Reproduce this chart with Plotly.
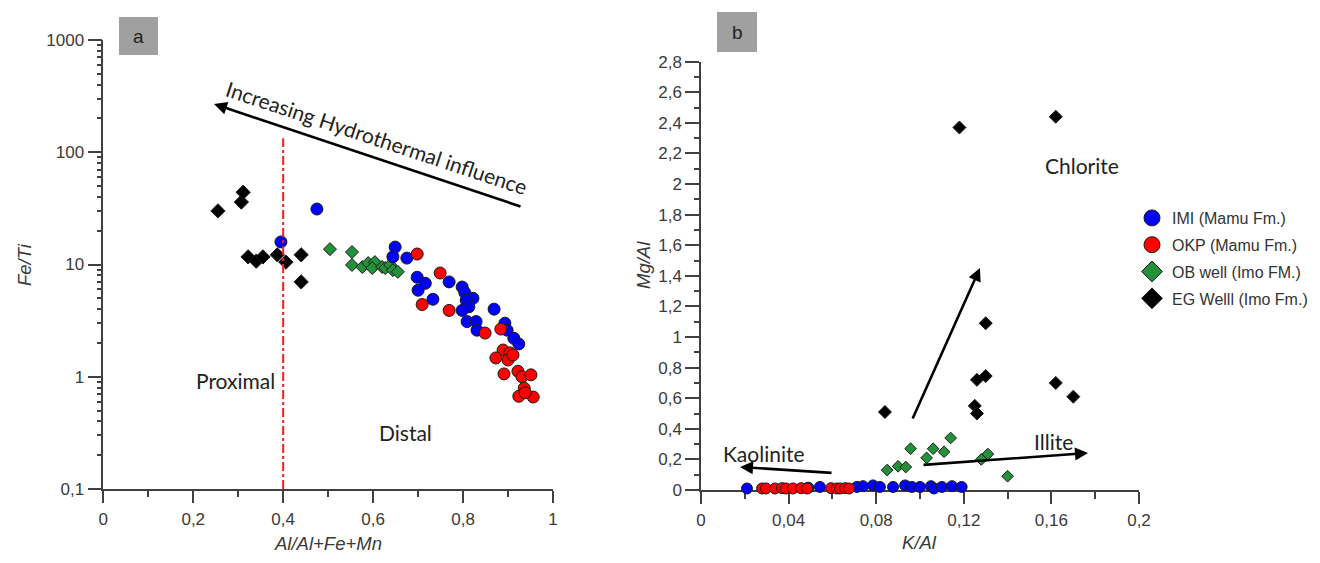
import plotly.graph_objects as go

# The page body adds an 8 px margin; the figure is sized so that it fills the 1320x563 window.
OFF = 8
W, H = 1320 - OFF, 563 - OFF

# ---------------- Panel a : Fe/Ti vs Al/(Al+Fe+Mn) ----------------
imi_a_x = [0.475, 0.395, 0.649, 0.644, 0.675, 0.698, 0.716, 0.700, 0.733, 0.769, 0.798, 0.804,
           0.822, 0.807, 0.813, 0.798, 0.869, 0.809, 0.829, 0.831, 0.893, 0.898, 0.913, 0.924]
imi_a_y = [31.2, 15.9, 14.3, 11.7, 11.4, 7.7, 6.8, 5.9, 4.9, 7.0, 6.3, 5.6,
           5.0, 4.8, 4.2, 3.9, 4.0, 3.1, 3.1, 2.6, 3.0, 2.6, 2.2, 1.96]

okp_a_x = [0.698, 0.749, 0.709, 0.769, 0.849, 0.884, 0.889, 0.904, 0.873, 0.900, 0.911, 0.891,
           0.922, 0.931, 0.951, 0.936, 0.924, 0.956, 0.938]
okp_a_y = [12.4, 8.4, 4.4, 3.9, 2.45, 2.66, 1.73, 1.63, 1.47, 1.41, 1.56, 1.06,
           1.12, 1.0, 1.04, 0.79, 0.67, 0.66, 0.72]

ob_a_x = [0.504, 0.553, 0.553, 0.576, 0.589, 0.604, 0.598, 0.620, 0.627, 0.638, 0.644, 0.655]
ob_a_y = [13.7, 12.9, 9.9, 9.5, 10.3, 10.5, 9.3, 9.5, 9.3, 9.9, 8.9, 8.6]

eg_a_x = [0.255, 0.307, 0.311, 0.322, 0.340, 0.355, 0.387, 0.406, 0.440, 0.440]
eg_a_y = [30.0, 36.0, 44.0, 11.7, 10.7, 11.7, 12.2, 10.5, 12.2, 7.0]

boundary_x = [0.4, 0.4]
boundary_y = [0.1, 133]

a_yticks = [0.1, 1, 10, 100, 1000]
a_yticktext = ["0,1", "1", "10", "100", "1000"]

# ---------------- Panel b : Mg/Al vs K/Al ----------------
imi_b_x = [0.021, 0.049, 0.0543, 0.0712, 0.074, 0.0785, 0.0817, 0.0877, 0.0932, 0.0963,
           0.100, 0.105, 0.1064, 0.110, 0.1146, 0.119]
imi_b_y = [0.01, 0.015, 0.02, 0.02, 0.025, 0.03, 0.02, 0.02, 0.03, 0.02,
           0.02, 0.025, 0.01, 0.02, 0.025, 0.02]

okp_b_x = [0.0279, 0.0297, 0.0338, 0.037, 0.0388, 0.042, 0.0457, 0.0484, 0.0594, 0.062,
           0.0635, 0.0658, 0.0676]
okp_b_y = [0.01, 0.01, 0.01, 0.012, 0.01, 0.01, 0.012, 0.01, 0.012, 0.01, 0.01, 0.012, 0.01]

ob_b_x = [0.085, 0.090, 0.0935, 0.0957, 0.103, 0.106, 0.111, 0.114, 0.128, 0.131, 0.140]
ob_b_y = [0.13, 0.155, 0.15, 0.27, 0.21, 0.27, 0.25, 0.34, 0.20, 0.235, 0.09]

eg_b_x = [0.118, 0.162, 0.130, 0.126, 0.130, 0.125, 0.126, 0.162, 0.170, 0.084]
eg_b_y = [2.37, 2.44, 1.09, 0.72, 0.745, 0.55, 0.50, 0.70, 0.61, 0.51]

series_names = ["IMI (Mamu Fm.)", "OKP (Mamu Fm.)", "OB well (Imo FM.)", "EG Welll (Imo Fm.)"]
series_colors = ["#0000ff", "#ff0000", "#22913a", "#000000"]
series_symbols = ["circle", "circle", "diamond", "diamond"]


def pxx(x):
    return (x - OFF) / W


def pyy(y):
    return 1 - (y - OFF) / H


AXC = "#404040"
SANS = "Liberation Sans, Arial, sans-serif"
TICKFONT = dict(family=SANS, size=17, color="#3a3a3a")
TITLEFONT = dict(family=SANS, size=18.5, color="#3a3a3a")
NOTEFONT = dict(family="Lato, Open Sans, sans-serif", size=21, color="#222222")
MKLINE = dict(color="#1a1a1a", width=1)

fig = go.Figure()

# panel a markers (black, green, blue, red)
panel_a = [
    (eg_a_x, eg_a_y, 3, 11),
    (ob_a_x, ob_a_y, 2, 10),
    (imi_a_x, imi_a_y, 0, 12),
    (okp_a_x, okp_a_y, 1, 12),
]
for xs, ys, k, sz in panel_a:
    fig.add_trace(go.Scatter(
        x=xs, y=ys, mode="markers", xaxis="x", yaxis="y", showlegend=False,
        cliponaxis=False, name=series_names[k],
        marker=dict(symbol=series_symbols[k], size=sz, color=series_colors[k], line=MKLINE)))

fig.add_trace(go.Scatter(
    x=boundary_x, y=boundary_y, mode="lines", xaxis="x", yaxis="y", showlegend=False,
    line=dict(color="#ff1a1a", width=2, dash="dashdot")))

# panel b markers
panel_b = [
    (eg_b_x, eg_b_y, 3, 10),
    (ob_b_x, ob_b_y, 2, 9),
    (imi_b_x, imi_b_y, 0, 11),
    (okp_b_x, okp_b_y, 1, 11),
]
for xs, ys, k, sz in panel_b:
    fig.add_trace(go.Scatter(
        x=xs, y=ys, mode="markers", xaxis="x2", yaxis="y2", showlegend=False,
        cliponaxis=False, name=series_names[k],
        marker=dict(symbol=series_symbols[k], size=sz, color=series_colors[k], line=MKLINE)))

# legend entries
for k in range(4):
    fig.add_trace(go.Scatter(
        x=[None], y=[None], mode="markers", xaxis="x2", yaxis="y2", showlegend=True,
        name=series_names[k], legendgroup=f"g{k}",
        marker=dict(symbol=series_symbols[k], size=20, color=series_colors[k], line=MKLINE)))

common_axis = dict(showline=True, linecolor=AXC, linewidth=1.5, showgrid=False, zeroline=False,
                   ticks="outside", tickcolor=AXC, tickwidth=1.5, tickfont=TICKFONT,
                   layer="below traces", fixedrange=True, automargin=False)

fig.update_layout(
    width=W, height=H,
    margin=dict(l=0, r=0, t=0, b=0, autoexpand=False),
    paper_bgcolor="white", plot_bgcolor="white",
    separators=",.",
    xaxis=dict(domain=[pxx(103.3), pxx(553)], range=[0, 1], anchor="y", dtick=0.2, tick0=0,
               ticklen=12, ticklabelstandoff=2,
               minor=dict(dtick=0.1, tick0=0, ticks="outside", ticklen=6, tickcolor=AXC, tickwidth=1.5),
               **common_axis),
    yaxis=dict(domain=[pyy(489), pyy(40)], type="log", range=[-1, 3], anchor="x",
               tickmode="array", tickvals=a_yticks, ticktext=a_yticktext, ticklen=14,
               minor=dict(dtick="D1", ticks="outside", ticklen=5, tickcolor=AXC, tickwidth=1.5),
               **common_axis),
    xaxis2=dict(domain=[pxx(701), pxx(1139)], range=[0, 0.2], anchor="y2", dtick=0.04, tick0=0,
                ticklen=12, ticklabelstandoff=2,
                minor=dict(dtick=0.02, tick0=0, ticks="outside", ticklen=7, tickcolor=AXC, tickwidth=1.5),
                **common_axis),
    yaxis2=dict(domain=[pyy(490), pyy(61.7)], range=[0, 2.8], anchor="x2", dtick=0.2, tick0=0,
                ticklen=14,
                minor=dict(dtick=0.1, tick0=0, ticks="outside", ticklen=5, tickcolor=AXC, tickwidth=1.5),
                **common_axis),
    legend=dict(x=pxx(1132), y=pyy(201), xanchor="left", yanchor="top",
                font=dict(family=SANS, size=16, color="#333333"),
                bgcolor="rgba(0,0,0,0)", tracegroupgap=3, itemsizing="trace"),
    hovermode=False,
)

ann = []


def text_at(x, y, txt, font, angle=0, italic=False):
    f = dict(font)
    if italic:
        f["style"] = "italic"
    ann.append(dict(x=pxx(x), y=pyy(y), xref="paper", yref="paper", text=txt, showarrow=False,
                    font=f, textangle=angle, xanchor="center", yanchor="middle"))


def arrow(hx, hy, tx, ty):
    ann.append(dict(x=pxx(hx), y=pyy(hy), xref="paper", yref="paper", ax=tx - hx, ay=ty - hy,
                    axref="pixel", ayref="pixel", text="", showarrow=True, arrowhead=2,
                    arrowsize=1, arrowwidth=2.6, arrowcolor="#000000", standoff=0))


# axis titles
text_at(25, 265, "Fe/Ti", TITLEFONT, angle=-90, italic=True)
text_at(328, 543, "Al/Al+Fe+Mn", TITLEFONT, italic=True)
text_at(644, 265, "Mg/Al", TITLEFONT, angle=-90, italic=True)
text_at(920, 542, "K/Al", TITLEFONT, italic=True)

# panel a notes
arrow(214, 104, 522, 207)
text_at(377, 137, "Increasing Hydrothermal influence", dict(NOTEFONT, size=21), angle=18.35)
text_at(236, 380, "Proximal", NOTEFONT)
text_at(405, 432, "Distal", NOTEFONT)

# panel b notes
arrow(740, 467, 833, 473)
text_at(764, 453, "Kaolinite", NOTEFONT)
arrow(1088, 453, 922, 465)
text_at(1053, 441, "Illite", NOTEFONT)
arrow(980, 268, 912, 420)
text_at(1082, 165, "Chlorite", NOTEFONT)

# panel labels
shapes = []
for (x0, y0, x1, y1, lab) in [(119, 17, 158, 55, "a"), (717, 12, 757, 52, "b")]:
    shapes.append(dict(type="rect", xref="paper", yref="paper", x0=pxx(x0), x1=pxx(x1),
                       y0=pyy(y1), y1=pyy(y0), fillcolor="#a0a0a0", line=dict(width=0), layer="below"))
    text_at((x0 + x1) / 2, (y0 + y1) / 2, lab, dict(family=SANS, size=19, color="#222222"))

fig.update_layout(annotations=ann, shapes=shapes)

fig.write_html("out.html")
